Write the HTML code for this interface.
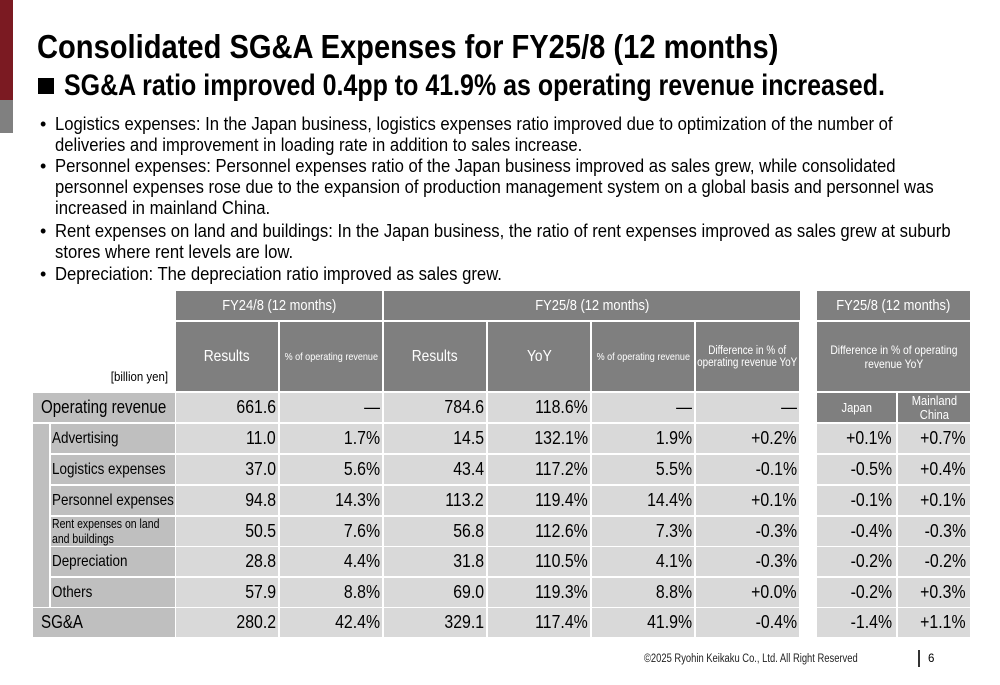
<!DOCTYPE html>
<html><head><meta charset="utf-8">
<style>
body{margin:0;width:1000px;height:685px;position:relative;overflow:hidden;background:#fff;font-family:"Liberation Sans",sans-serif;color:#000}
.a{position:absolute;white-space:nowrap}
.fit{transform-origin:0 0;display:inline-block}
.c{position:absolute;box-sizing:border-box;display:flex;align-items:center;overflow:hidden;white-space:nowrap}
.h{background:#7f7f7f;color:#fff;justify-content:center;text-align:center}
.l{background:#bfbfbf}
.d{background:#d9d9d9;justify-content:flex-end;padding-right:2px;font-size:18px}
.sx{display:inline-block;transform:scaleX(.86)}
.sxr{display:inline-block;transform:scaleX(.88);transform-origin:100% 50%}
.sxl{display:inline-block;transform:scaleX(.84);transform-origin:0 50%}
</style></head><body>
<div class="a" style="left:0;top:0;width:13px;height:100px;background:#7b1a22"></div>
<div class="a" style="left:0;top:100px;width:13px;height:33px;background:#808080"></div>
<div class="a" style="left:37px;top:28px;font-size:33px;font-weight:bold"><span class="fit" data-w="741">Consolidated SG&amp;A Expenses for FY25/8 (12 months)</span></div>
<div class="a" style="left:38px;top:78px;width:16px;height:16px;background:#000"></div>
<div class="a" style="left:64px;top:69px;font-size:30px;font-weight:bold"><span class="fit" data-w="821">SG&amp;A ratio improved 0.4pp to 41.9% as operating revenue increased.</span></div>
<div>
<div class="a" style="left:40px;top:114px;font-size:18px">•</div>
<div class="a" style="left:55px;top:114px;font-size:18px"><span class="fit" data-w="838">Logistics expenses: In the Japan business, logistics expenses ratio improved due to optimization of the number of</span></div>
<div class="a" style="left:55px;top:135px;font-size:18px"><span class="fit" data-w="527">deliveries and improvement in loading rate in addition to sales increase.</span></div>
<div class="a" style="left:40px;top:156px;font-size:18px">•</div>
<div class="a" style="left:55px;top:156px;font-size:18px"><span class="fit" data-w="841">Personnel expenses: Personnel expenses ratio of the Japan business improved as sales grew, while consolidated</span></div>
<div class="a" style="left:55px;top:177px;font-size:18px"><span class="fit" data-w="879">personnel expenses rose due to the expansion of production management system on a global basis and personnel was</span></div>
<div class="a" style="left:55px;top:198px;font-size:18px"><span class="fit" data-w="215">increased in mainland China.</span></div>
<div class="a" style="left:40px;top:221px;font-size:18px">•</div>
<div class="a" style="left:55px;top:221px;font-size:18px"><span class="fit" data-w="896">Rent expenses on land and buildings: In the Japan business, the ratio of rent expenses improved as sales grew at suburb</span></div>
<div class="a" style="left:55px;top:242px;font-size:18px"><span class="fit" data-w="238">stores where rent levels are low.</span></div>
<div class="a" style="left:40px;top:264px;font-size:18px">•</div>
<div class="a" style="left:55px;top:264px;font-size:18px"><span class="fit" data-w="447">Depreciation: The depreciation ratio improved as sales grew.</span></div>
</div>

<div id="tbl"></div>

<div class="a" style="left:644px;top:653px;font-size:11.5px;color:#222"><span class="fit" data-w="214">©2025 Ryohin Keikaku Co., Ltd. All Right Reserved</span></div>
<div class="a" style="left:918px;top:650px;width:2px;height:17px;background:#333"></div>
<div class="a" style="left:928px;top:653px;font-size:11.5px">6</div>

<script>
const labels=["Operating revenue","Advertising","Logistics expenses","Personnel expenses","Rent expenses on land<br>and buildings","Depreciation","Others","SG&A"];
const res24=["661.6","11.0","37.0","94.8","50.5","28.8","57.9","280.2"];
const pct24=["—","1.7%","5.6%","14.3%","7.6%","4.4%","8.8%","42.4%"];
const res25=["784.6","14.5","43.4","113.2","56.8","31.8","69.0","329.1"];
const yoy25=["118.6%","132.1%","117.2%","119.4%","112.6%","110.5%","119.3%","117.4%"];
const pct25=["—","1.9%","5.5%","14.4%","7.3%","4.1%","8.8%","41.9%"];
const diff25=["—","+0.2%","-0.1%","+0.1%","-0.3%","-0.3%","+0.0%","-0.4%"];
const japan=["","+0.1%","-0.5%","-0.1%","-0.4%","-0.2%","-0.2%","-1.4%"];
const china=["","+0.7%","+0.4%","+0.1%","-0.3%","-0.2%","+0.3%","+1.1%"];
const T=document.getElementById('tbl');
function cell(cls,x,y,w,h,html,name,fs){const d=document.createElement('div');d.className='c '+cls;
d.style.cssText+=`left:${x}px;top:${y}px;width:${w}px;height:${h}px;`+(fs?`font-size:${fs}px;`:'');
d.innerHTML=html;


T.appendChild(d);return d;}
const colX=[176,280,384,488,592,696,801];
cell('h',176,291,206,29,'<span class="sx">FY24/8 (12 months)</span>','header-fy24',15);
cell('h',384,291,416,29,'<span class="sx">FY25/8 (12 months)</span>','header-fy25',15);
cell('h',817,291,153,29,'<span class="sx">FY25/8 (12 months)</span>','header-fy25-region',15);
const sub=[['Results',16],['% of operating revenue',10.5],['Results',16],['YoY',16],['% of operating revenue',10.5],['Difference in % of<br>operating revenue YoY',11.5]];
sub.forEach((s,i)=>cell('h',colX[i],322,colX[i+1]-colX[i]-2,69,'<span class="sx">'+s[0]+'</span>','subheader-'+i,s[1]));
cell('h',817,322,153,69,'<span class="sx">Difference in % of operating<br>revenue YoY</span>','subheader-region-diff',12);
cell('',90,366,78,20,'<span class="sxr">[billion yen]</span>','unit-label',13).style.justifyContent='flex-end';
const rowY=[393,424,455,486,517,547,578,608];
const rowH=29;
cell('l',33,424,16,183,'','category-bracket');
rowY.forEach((y,i)=>{
  const top=(i==0||i==7);
  const lx=top?33:51;
  const lc=cell('l',lx,y,175-lx,rowH,'<span class="sxl">'+labels[i]+'</span>','row-label-'+i,top?18:(i==4?12.5:16));
  lc.style.paddingLeft=top?'8px':'1px';
  if(i==4){lc.firstChild.style.lineHeight='15px';}
  const vals=[res24[i],pct24[i],res25[i],yoy25[i],pct25[i],diff25[i]];
  vals.forEach((v,j)=>cell('d',colX[j],y,colX[j+1]-colX[j]-2,rowH,'<span class="sxr">'+v+'</span>','cell-r'+i+'-c'+j));
  if(i==0){
    cell('h',817,y,79,rowH,'<span class="sx">Japan</span>','header-japan',13);
    cell('h',898,y,72,rowH,'<span class="sx" style="line-height:14px">Mainland<br>China</span>','header-china',13);
  } else {
    cell('d',817,y,79,rowH,'<span class="sxr">'+japan[i]+'</span>','japan-r'+i).style.paddingRight='4px';
    cell('d',898,y,72,rowH,'<span class="sxr">'+china[i]+'</span>','china-r'+i).style.paddingRight='4px';
  }
});
document.querySelectorAll('.fit').forEach(e=>{const w=+e.dataset.w;const s=w/e.offsetWidth;e.style.transform=`scaleX(${s})`;});
</script>
</body></html>
